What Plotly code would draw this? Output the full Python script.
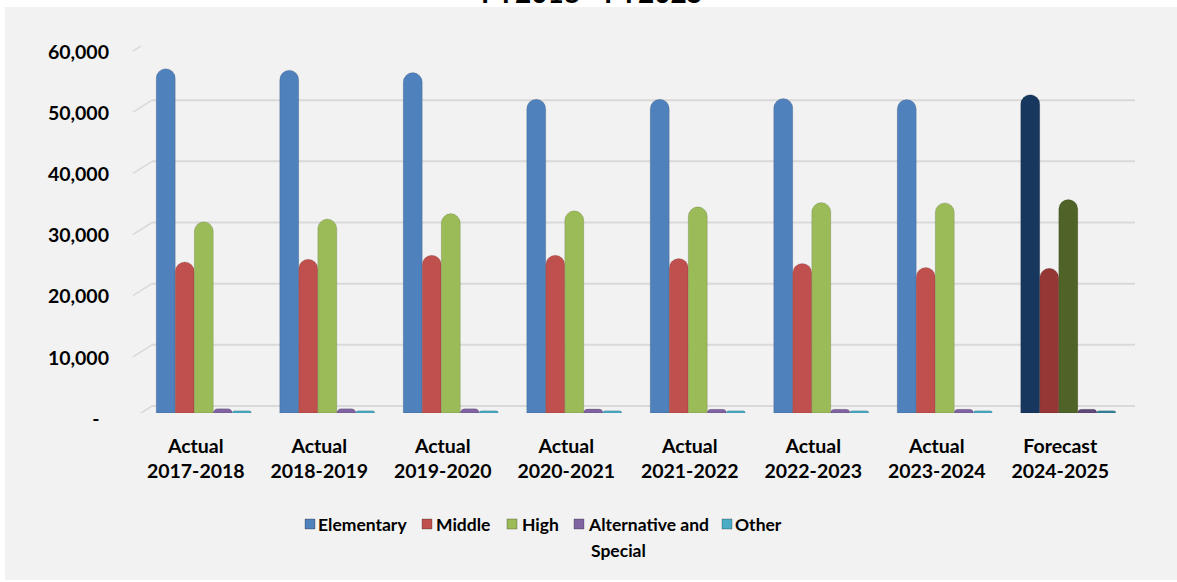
import plotly.graph_objects as go
import numpy as np

categories = ["Actual<br>2017-2018", "Actual<br>2018-2019", "Actual<br>2019-2020",
              "Actual<br>2020-2021", "Actual<br>2021-2022", "Actual<br>2022-2023",
              "Actual<br>2023-2024", "Forecast<br>2024-2025"]
elementary = [56300, 56050, 55650, 51300, 51300, 51400, 51250, 52050]
middle = [24700, 25150, 25800, 25800, 25250, 24450, 23800, 23650]
high = [31250, 31700, 32600, 33050, 33700, 34400, 34350, 34900]
alternative = [700, 700, 700, 650, 600, 600, 600, 600]
other = [350, 350, 350, 350, 350, 350, 350, 350]

y_ticks = [0, 10000, 20000, 30000, 40000, 50000, 60000]
y_ticktext = ["-\u00a0\u00a0", "10,000", "20,000", "30,000", "40,000", "50,000", "60,000"]

series_names = ["Elementary", "Middle", "High", "Alternative and<br>Special", "Other"]
series_values = [elementary, middle, high, alternative, other]
base_colors = ["#4f81bd", "#c0504d", "#9bbb59", "#8064a2", "#4bacc6"]
forecast_colors = ["#17375e", "#953735", "#4f6228", "#604a7b", "#31859c"]

W, H = 1177, 582
L, R, T, B = 134, 1122, 46, 413  # plot area pixel box
pw, ph = R - L, B - T

def px_x(p):
    return (p - L) / pw

def px_y(p):
    return (B - p) / ph

xpos = np.arange(len(categories)) + 0.065
FONT = "Lato"
n = len(categories)

fig = go.Figure()
for name, vals, col, fcol in zip(series_names, series_values, base_colors, forecast_colors):
    colors = [col] * (n - 1) + [fcol]
    fig.add_trace(go.Bar(
        x=xpos, y=vals, name=name.replace("<br>", " "), showlegend=False,
        marker=dict(color=colors, line=dict(color="rgba(0,0,0,0.12)", width=1)),
    ))

shapes = []
# gray panel background
shapes.append(dict(type="rect", xref="paper", yref="paper",
                   x0=px_x(5), x1=px_x(W + 5), y0=px_y(7), y1=px_y(580),
                   fillcolor="#f2f2f2", line=dict(width=0), layer="below"))
# back-wall gridlines and left floor diagonals
for v in y_ticks:
    shapes.append(dict(type="line", xref="paper", yref="y",
                       xsizemode="pixel", ysizemode="pixel",
                       xanchor=0, yanchor=v,
                       x0=18, x1=1135 - L, y0=7, y1=7,
                       line=dict(color="#d9d9d9", width=2), layer="below"))
    shapes.append(dict(type="line", xref="paper", yref="y",
                       xsizemode="pixel", ysizemode="pixel",
                       xanchor=0, yanchor=v,
                       x0=-1, x1=18, y0=-5, y1=7,
                       line=dict(color="#d9d9d9", width=1.5), layer="below"))

# legend (symbol squares + labels)
legend_marker_px = [305, 422, 507, 574, 722]
legend_text_px = [318, 436, 522, 588, 735]
legend_row_y = 524
legend_line_gap = 26
annotations = []
for name, col, mx, tx in zip(series_names, base_colors, legend_marker_px, legend_text_px):
    shapes.append(dict(type="rect", xref="paper", yref="paper",
                       x0=px_x(mx), x1=px_x(mx + 10),
                       y0=px_y(legend_row_y - 5), y1=px_y(legend_row_y + 5),
                       fillcolor=col, line=dict(color="rgba(0,0,0,0.25)", width=1)))
    for i, line in enumerate(name.split("<br>")):
        annotations.append(dict(text="<b>" + line + "</b>", xref="paper", yref="paper",
                                x=px_x(tx - 2 + (3 if i else 0)),
                                y=px_y(legend_row_y + i * legend_line_gap),
                                xanchor="left", yanchor="middle", align="left",
                                showarrow=False,
                                font=dict(family=FONT, size=17.5, color="#000000")))

annotations.append(dict(text="<b>FY2018 - FY2025</b>", xref="paper", yref="paper",
                        x=px_x(592), y=px_y(-8), xanchor="center", yanchor="middle",
                        showarrow=False, font=dict(family=FONT, size=28, color="#000000")))

axis_font = dict(family=FONT, size=19.5, color="#000000", weight="bold")

fig.update_layout(
    width=W, height=H,
    margin=dict(l=L, r=W - R, t=T, b=H - B, pad=0),
    paper_bgcolor="white", plot_bgcolor="rgba(0,0,0,0)",
    barmode="group", bargap=0.23, bargroupgap=0,
    barcornerradius="50%",
    font=dict(family=FONT, size=18, color="#000000"),
    shapes=shapes,
    annotations=annotations,
    showlegend=False,
    xaxis=dict(range=[-0.5, n - 0.5], tickmode="array", tickvals=list(range(n)),
               ticktext=categories, showgrid=False, zeroline=False, showline=False,
               ticks="", ticklabelstandoff=19, tickfont=axis_font),
    yaxis=dict(range=[0, 60000], tickmode="array", tickvals=y_ticks, ticktext=y_ticktext,
               showgrid=False, zeroline=False, showline=False, ticks="",
               ticklabelstandoff=24, ticklabelshift=6, tickfont=axis_font),
)

fig.write_html("out.html")
